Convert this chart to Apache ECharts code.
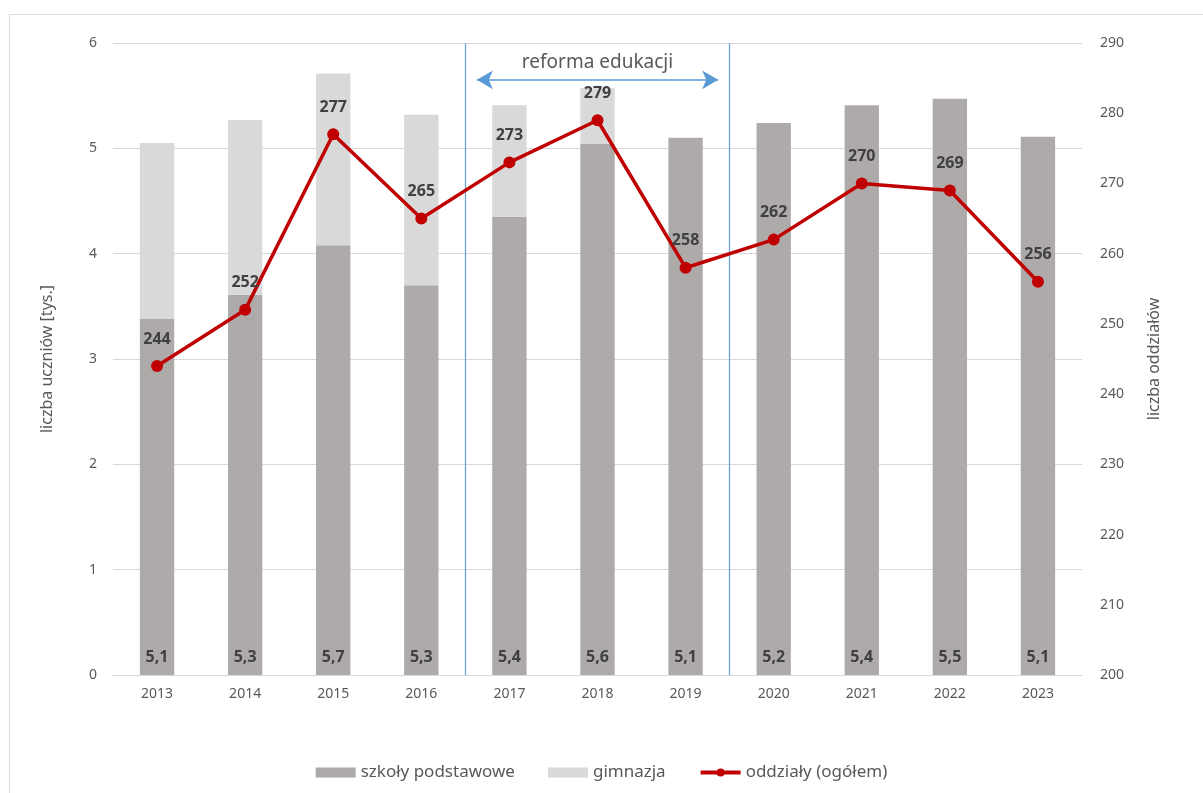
<!DOCTYPE html>
<html>
<head>
<meta charset="utf-8">
<script src="https://cdn.jsdelivr.net/npm/echarts@6/dist/echarts.min.js"></script>
<style>html,body{margin:0;padding:0;background:#fff;}#c{width:1203px;height:793px;}</style>
</head>
<body>
<div id="c"></div>
<script>
const years = ['2013','2014','2015','2016','2017','2018','2019','2020','2021','2022','2023'];
const podstawowe = [3.38, 3.61, 4.08, 3.70, 4.35, 5.04, 5.10, 5.24, 5.41, 5.47, 5.11];
const gimnazja = [1.67, 1.66, 1.63, 1.62, 1.06, 0.53, 0, 0, 0, 0, 0];
const totals = [5.1, 5.3, 5.7, 5.3, 5.4, 5.6, 5.1, 5.2, 5.4, 5.5, 5.1];
const oddzialy = [244, 252, 277, 265, 273, 279, 258, 262, 270, 269, 256];
const leftTicks = [0, 6, 1];
const rightTicks = [200, 290, 10];
const reformStart = 3.5, reformEnd = 6.5;

const FONT = 'Noto Sans';
const BLUE = '#5B9BD5';
const VBLUE = '#6FA8DC';
const vline = { color: VBLUE, width: 1.3, type: 'solid', opacity: 1 };
const chart = echarts.init(document.getElementById('c'));
chart.setOption({
  backgroundColor: '#fff',
  textStyle: { fontFamily: FONT },
  animation: false,
  graphic: [{
    type: 'rect', left: 7, top: 12, silent: true,
    shape: { width: 1250, height: 850 },
    style: { fill: 'none', stroke: '#d9d9d9', lineWidth: 1 }
  }],
  grid: { left: 113, right: 121, top: 43, bottom: 118 },
  legend: {
    top: 759, left: 'center', itemWidth: 40, itemHeight: 10, itemGap: 33,
    textStyle: { color: '#595959', fontSize: 17, fontFamily: FONT },
    data: [
      { name: 'szkoły podstawowe', icon: 'rect' },
      { name: 'gimnazja', icon: 'rect' },
      { name: 'oddziały (ogółem)', lineStyle: { width: 4 } }
    ]
  },
  xAxis: [{
    type: 'category', data: years,
    axisLine: { lineStyle: { color: '#d9d9d9', width: 1 } },
    axisTick: { show: false },
    axisLabel: { color: '#595959', fontSize: 14, margin: 12 }
  }, {
    type: 'value', min: -0.5, max: 10.5, show: false, position: 'bottom'
  }],
  yAxis: [{
    type: 'value', min: leftTicks[0], max: leftTicks[1], interval: leftTicks[2],
    name: 'liczba uczniów [tys.]', nameLocation: 'middle', nameGap: 58, nameRotate: 90,
    nameTextStyle: { color: '#595959', fontSize: 16 },
    axisLine: { show: false }, axisTick: { show: false },
    axisLabel: { color: '#595959', fontSize: 14, margin: 16 },
    splitLine: { lineStyle: { color: '#d9d9d9', width: 1 } }
  }, {
    type: 'value', min: rightTicks[0], max: rightTicks[1], interval: rightTicks[2],
    name: 'liczba oddziałów', nameLocation: 'middle', nameGap: 64, nameRotate: 90,
    nameTextStyle: { color: '#595959', fontSize: 16 },
    axisLine: { show: false }, axisTick: { show: false },
    axisLabel: { color: '#595959', fontSize: 14, margin: 18 },
    splitLine: { show: false }
  }],
  series: [{
    name: 'szkoły podstawowe', type: 'bar', stack: 'u', barWidth: '39%',
    itemStyle: { color: '#AEAAAA' },
    data: podstawowe,
    label: {
      show: true, position: 'insideBottom', distance: 10,
      color: '#404040', fontSize: 16, fontWeight: 'bold',
      formatter: p => totals[p.dataIndex].toFixed(1).replace('.', ',')
    },
    z: 2
  }, {
    name: 'gimnazja', type: 'bar', stack: 'u', barWidth: '39%',
    itemStyle: { color: '#D9D9D9' },
    data: gimnazja, z: 2
  }, {
    name: 'oddziały (ogółem)', type: 'line', yAxisIndex: 1,
    data: oddzialy,
    lineStyle: { color: '#C00000', width: 3.5 },
    itemStyle: { color: '#C00000' },
    symbol: 'circle', symbolSize: 12,
    label: { show: true, position: 'top', distance: 13, color: '#404040', fontSize: 16, fontWeight: 'bold' },
    z: 5
  }, {
    name: 'reform', type: 'line', xAxisIndex: 1, yAxisIndex: 0, data: [],
    silent: true, color: BLUE,
    lineStyle: { color: BLUE }, itemStyle: { color: BLUE },
    markLine: {
      silent: true, animation: false,
      symbol: ['none', 'none'],
      lineStyle: vline,
      itemStyle: { color: VBLUE },
      label: { show: false },
      emphasis: { disabled: true },
      data: [
        [{ coord: [reformStart, 0], lineStyle: vline, itemStyle: { color: VBLUE } }, { coord: [reformStart, 6] }],
        [{ coord: [reformEnd, 0], lineStyle: vline, itemStyle: { color: VBLUE } }, { coord: [reformEnd, 6] }],
        [{ coord: [reformStart + 0.13, 5.65], symbol: 'arrow', symbolSize: [14, 16],
           lineStyle: { color: BLUE, width: 1.5, type: 'solid' },
           itemStyle: { color: BLUE },
           label: { show: true, position: 'middle', formatter: 'reforma edukacji', color: '#595959', fontSize: 19, distance: 8 } },
         { coord: [reformEnd - 0.13, 5.65], symbol: 'arrow', symbolSize: [14, 16] }]
      ]
    }
  }]
});
</script>
</body>
</html>
